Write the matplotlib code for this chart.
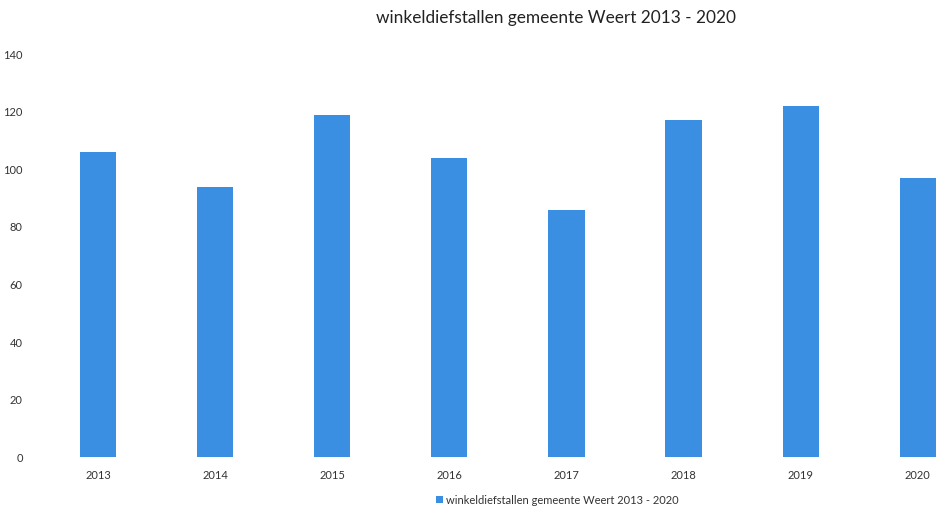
import matplotlib.pyplot as plt
import numpy as np

plt.rcParams['font.family'] = ['Lato', 'DejaVu Sans']

years = ['2013', '2014', '2015', '2016', '2017', '2018', '2019', '2020']
diefstallen = [106, 94, 119, 104, 86, 117, 122, 97]
label = 'winkeldiefstallen gemeente Weert 2013 - 2020'

fig = plt.figure(figsize=(9.37, 5.12), dpi=100)
ax = fig.add_axes([0.042, 0.107, 1.0, 0.787])

x = np.arange(len(years))
ax.bar(x, diefstallen, width=0.31, color='#3a8fe2', label=label)

ax.set_xlim(-0.5, 7.5)
ax.set_ylim(0, 140)
ax.set_yticks(range(0, 141, 20))
ax.set_xticks(x)
ax.set_xticklabels(years)
ax.tick_params(length=0, labelsize=8, colors='#333333')
ax.tick_params(axis='y', pad=12)
ax.tick_params(axis='x', pad=9)
for s in ax.spines.values():
    s.set_visible(False)

fig.text(0.593, 0.965, label, ha='center', va='center', fontsize=12.4, color='#222222')
fig.legend(loc='center', bbox_to_anchor=(0.595, 0.023), frameon=False, fontsize=8,
           handlelength=0.6, handleheight=0.6, handletextpad=0.3, labelcolor='#333333')

fig.savefig('out.png', dpi=100)
